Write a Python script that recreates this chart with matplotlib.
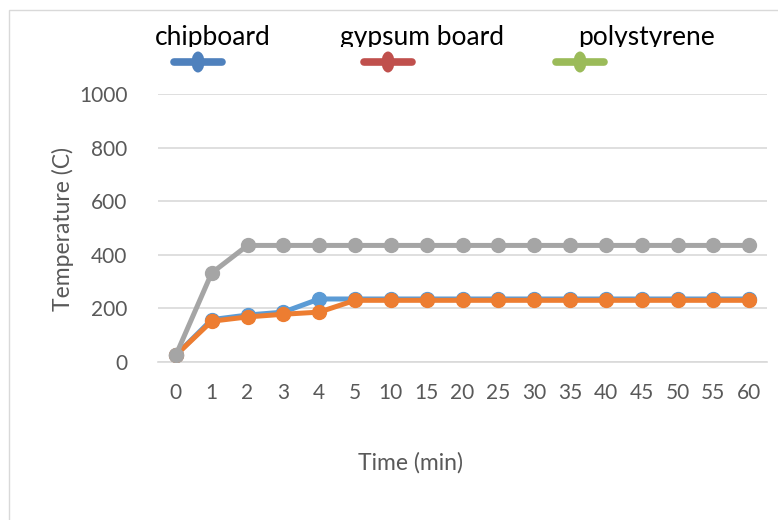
import matplotlib.pyplot as plt
from matplotlib.lines import Line2D
from matplotlib.patches import Rectangle, Ellipse
from matplotlib.transforms import Bbox

plt.rcParams['font.family'] = ['Lato', 'DejaVu Sans']

times = ["0", "1", "2", "3", "4", "5", "10", "15", "20", "25", "30", "35", "40", "45", "50", "55", "60"]
chipboard = [25, 158, 175, 186, 235, 235, 235, 235, 235, 235, 235, 235, 235, 235, 235, 235, 235]
gypsum = [25, 152, 168, 178, 186, 230, 230, 230, 230, 230, 230, 230, 230, 230, 230, 230, 230]
polystyrene = [25, 332, 435, 435, 435, 435, 435, 435, 435, 435, 435, 435, 435, 435, 435, 435, 435]

labels = ["chipboard", "gypsum board", "polystyrene"]
key_colors = ["#4f81bd", "#c0504d", "#9bbb59"]

fig = plt.figure(figsize=(7.78, 5.2), dpi=100)
ax = fig.add_axes([0.203, 0.304, 0.783, 0.515])

x = list(range(len(times)))
ax.plot(x, chipboard, color="#5b9bd5", lw=3.6, marker="o", ms=10, zorder=3)
ax.plot(x, gypsum, color="#ed7d31", lw=3.6, marker="o", ms=10, zorder=4)
ax.plot(x, polystyrene, color="#a5a5a5", lw=3.6, marker="o", ms=10, zorder=5)

ax.set_xlim(-0.5, len(times) - 0.5)
ax.set_ylim(0, 1000)
ax.set_yticks(range(0, 1001, 200))
ax.set_xticks(x)
ax.set_xticklabels(times)
ax.grid(axis="y", color="#d9d9d9", lw=1.2)
ax.set_axisbelow(True)
for s in ax.spines.values():
    s.set_visible(False)
ax.spines["bottom"].set_visible(True)
ax.spines["bottom"].set_color("#d9d9d9")
ax.spines["bottom"].set_linewidth(1.2)
ax.tick_params(length=0, labelsize=15, colors="#595959")
ax.tick_params(axis="x", pad=15)
ax.tick_params(axis="y", pad=22)

# axis titles
fig.text(410 / 778, 1 - 463 / 520, "Time (min)", fontsize=16.5, color="#595959", ha="center", va="center")
fig.text(63 / 778, 1 - 229 / 520, "Temperature (C)", fontsize=16.5, color="#595959",
         ha="center", va="center", rotation=90)

# outer chart frame
fig.patches.append(Rectangle((9 / 778, -0.1), 1.0, 1 - 10 / 520 + 0.1, transform=fig.transFigure,
                             fill=False, ec="#d9d9d9", lw=1))

# key above the plot, labels sit over their swatches
label_x = [155, 340, 578]
swatch_x = [198, 388, 580]
clip = Bbox.from_extents(0, 520 - 47, 778, 520)
for lab, lx, sx, c in zip(labels, label_x, swatch_x, key_colors):
    t = fig.text(lx / 778, 1 - 37 / 520, lab, fontsize=19, color="black", va="center", ha="left")
    t.set_clip_box(clip)
    t.set_clip_on(True)
    fig.lines.append(Line2D([(sx - 24) / 778, (sx + 24) / 778], [1 - 62 / 520] * 2,
                            transform=fig.transFigure, color=c, lw=5.5, solid_capstyle="round"))
    fig.patches.append(Ellipse((sx / 100, (520 - 62) / 100), 0.13, 0.21,
                               transform=fig.dpi_scale_trans, color=c, lw=0))

fig.savefig("out.png", dpi=100)
